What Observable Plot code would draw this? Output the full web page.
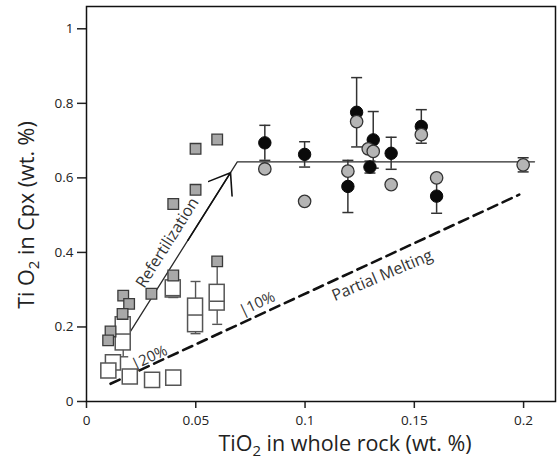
<!DOCTYPE html>
<html><head><meta charset="utf-8">
<script src="https://cdn.jsdelivr.net/npm/d3@7"></script>
<script src="https://cdn.jsdelivr.net/npm/@observablehq/plot@0.6"></script>
<style>
body{margin:0;background:#fff}
#chart svg{display:block}
#chart svg [aria-label$="tick"] path{stroke-width:1.5}
</style>
</head><body><div id="chart"></div>
<script>
// ---- data ----
const xTicks = [0, 0.05, 0.1, 0.15, 0.2];
const yTicks = [0, 0.2, 0.4, 0.6, 0.8, 1];

// black circles (mean, with error)
const blackX   = [0.0816, 0.0998, 0.1196, 0.1236, 0.1312, 0.1297, 0.1394, 0.1532, 0.1602];
const blackY   = [0.694, 0.663, 0.577, 0.776, 0.702, 0.629, 0.666, 0.738, 0.551];
const blackErr = [0.047, 0.034, 0.070, 0.093, 0.076, 0.016, 0.043, 0.045, 0.046];

// grey circles
const greyX   = [0.0816, 0.0998, 0.1196, 0.1236, 0.1289, 0.1312, 0.1394, 0.1532, 0.1602, 0.1998];
const greyY   = [0.624, 0.537, 0.618, 0.751, 0.678, 0.671, 0.582, 0.716, 0.600, 0.635];
const greyErr = [null, null, null, null, null, null, null, null, null, 0.019];

// grey squares
const sqGreyX = [0.0168, 0.0195, 0.0165, 0.0110, 0.0099, 0.0297, 0.0598, 0.0499, 0.0499, 0.0397, 0.0397, 0.0598];
const sqGreyY = [0.284, 0.262, 0.235, 0.188, 0.164, 0.289, 0.703, 0.678, 0.568, 0.530, 0.338, 0.376];

// open squares
const sqOpenX = [0.0121, 0.0100, 0.0198, 0.0300, 0.0397];
const sqOpenY = [0.105, 0.083, 0.067, 0.058, 0.064];

// box plots
const boxX    = [0.0168, 0.0397, 0.0499, 0.0598];
const boxLow  = [0.120, 0.279, 0.182, 0.207];
const boxQ1   = [0.137, 0.279, 0.186, 0.244];
const boxMed  = [0.181, 0.284, 0.232, 0.269];
const boxQ3   = [0.226, 0.325, 0.276, 0.313];
const boxHigh = [0.240, 0.335, 0.322, 0.365];

// refertilization trend (start, corner, end) and arrow head segment
const refertX = [0.0194, 0.0690, 0.2050];
const refertY = [0.1816, 0.6430, 0.6430];
const arrowX = [0.0464, 0.0659];
const arrowY = [0.4324, 0.6140];

// partial melting trend
const meltX = [0.0110, 0.1980];
const meltY = [0.0475, 0.5550];

// annotations
const noteText  = ["Refertilization", "Partial Melting", "|20%", "|10%"];
const noteX     = [0.0370, 0.1353, 0.0288, 0.0781];
const noteY     = [0.426, 0.338, 0.118, 0.262];
const noteAngle = [-57.7, -23, -25, -25];
const noteSize  = [16, 16, 15, 15];

// ---- tables ----
const black = blackX.map((x, i) => ({x, y: blackY[i], e: blackErr[i]}));
const grey = greyX.map((x, i) => ({x, y: greyY[i], e: greyErr[i]}));
const errRows = black.concat(grey.filter(d => d.e != null));
const caps = errRows.flatMap(d => [{x: d.x, y: d.y + d.e}, {x: d.x, y: d.y - d.e}]);
const sqGrey = sqGreyX.map((x, i) => ({x, y: sqGreyY[i]}));
const sqOpen = sqOpenX.map((x, i) => ({x, y: sqOpenY[i]}));
const boxes = boxX.map((x, i) => ({x, low: boxLow[i], q1: boxQ1[i], med: boxMed[i], q3: boxQ3[i], high: boxHigh[i]}));
const boxCaps = boxes.flatMap(d => [{x: d.x, y: d.low}, {x: d.x, y: d.high}]);
const refert = refertX.map((x, i) => ({x, y: refertY[i]}));
const arrow = [{x1: arrowX[0], y1: arrowY[0], x2: arrowX[1], y2: arrowY[1]}];
const melt = meltX.map((x, i) => ({x, y: meltY[i]}));
const notes = noteText.map((t, i) => ({t, x: noteX[i], y: noteY[i], a: noteAngle[i], s: noteSize[i]}));

const hLine = {draw(ctx, size) { const r = Math.sqrt(size / Math.PI); ctx.moveTo(-r, 0); ctx.lineTo(r, 0); }};
const ink = "#2a2a2a";

const chart = Plot.plot({
  width: 559, height: 473,
  marginLeft: 86, marginRight: 4, marginTop: 6, marginBottom: 72,
  style: {fontFamily: "'Open Sans', sans-serif", fontSize: "13.5px", color: "#222", background: "#fff"},
  x: {domain: [0, 0.2146], ticks: xTicks, tickSize: 7, tickPadding: 7, tickFormat: d => String(+d.toFixed(3)), label: null},
  y: {domain: [0, 1.0598], ticks: yTicks, tickSize: 9, tickPadding: 4, tickFormat: d => String(+d.toFixed(3)), label: null},
  marks: [
    Plot.line(melt, {x: "x", y: "y", stroke: "#111", strokeWidth: 2.6, strokeDasharray: "10,6"}),
    Plot.line(refert, {x: "x", y: "y", stroke: ink, strokeWidth: 1.3}),
    Plot.arrow(arrow, {x1: "x1", y1: "y1", x2: "x2", y2: "y2", stroke: "#111", strokeWidth: 1.6, headLength: 22, headAngle: 72}),
    // box plots
    Plot.ruleX(boxes, {x: "x", y1: "low", y2: "high", stroke: "#555", strokeWidth: 1.4}),
    Plot.dot(boxCaps, {x: "x", y: "y", symbol: hLine, r: 5, stroke: "#555", strokeWidth: 1.4, fill: "none"}),
    Plot.rect(boxes, {x1: "x", x2: "x", y1: "q1", y2: "q3", insetLeft: -7.5, insetRight: -7.5, fill: "#fff", stroke: "#555", strokeWidth: 1.5}),
    Plot.dot(boxes, {x: "x", y: "med", symbol: hLine, r: 7.5, stroke: "#555", strokeWidth: 1.5, fill: "none"}),
    Plot.dot(sqOpen, {x: "x", y: "y", symbol: "square", r: 8.5, fill: "#fff", stroke: "#555", strokeWidth: 1.5}),
    Plot.dot(sqGrey, {x: "x", y: "y", symbol: "square", r: 6, fill: "#a8a8a8", stroke: "#3a3a3a", strokeWidth: 1.3}),
    // circles with error bars
    Plot.ruleX(errRows, {x: "x", y1: d => d.y - d.e, y2: d => d.y + d.e, stroke: "#333", strokeWidth: 1.5}),
    Plot.dot(caps, {x: "x", y: "y", symbol: hLine, r: 5.5, stroke: "#333", strokeWidth: 1.5, fill: "none"}),
    Plot.dot(black, {x: "x", y: "y", r: 6.2, fill: "#0a0a0a", stroke: "#0a0a0a", strokeWidth: 1}),
    Plot.dot(grey, {x: "x", y: "y", r: 6.2, fill: "#b5b5b5", stroke: "#333", strokeWidth: 1.3}),
    // annotations
    Plot.text(notes, {x: "x", y: "y", text: "t", rotate: "a", fontSize: "s", fill: "#333"}),
    Plot.frame({stroke: "#111", strokeWidth: 1.5})
  ]
});
document.getElementById("chart").append(chart);

// axis titles with subscripts
const svg = d3.select(chart);
const xt = svg.append("text").attr("x", 345).attr("y", 451).attr("text-anchor", "middle")
  .attr("font-family", "'Open Sans', sans-serif").attr("font-size", 21.5).attr("fill", "#222");
xt.append("tspan").text("TiO");
xt.append("tspan").attr("dy", 5).attr("font-size", 15).text("2");
xt.append("tspan").attr("dy", -5).text(" in whole rock (wt. %)");

const yt = svg.append("text").attr("transform", "translate(34,215) rotate(-90)").attr("text-anchor", "middle")
  .attr("font-family", "'Open Sans', sans-serif").attr("font-size", 21.5).attr("fill", "#222");
yt.append("tspan").text("Ti O");
yt.append("tspan").attr("dy", 5).attr("font-size", 15).text("2");
yt.append("tspan").attr("dy", -5).text(" in Cpx (wt. %)");
</script></body></html>
